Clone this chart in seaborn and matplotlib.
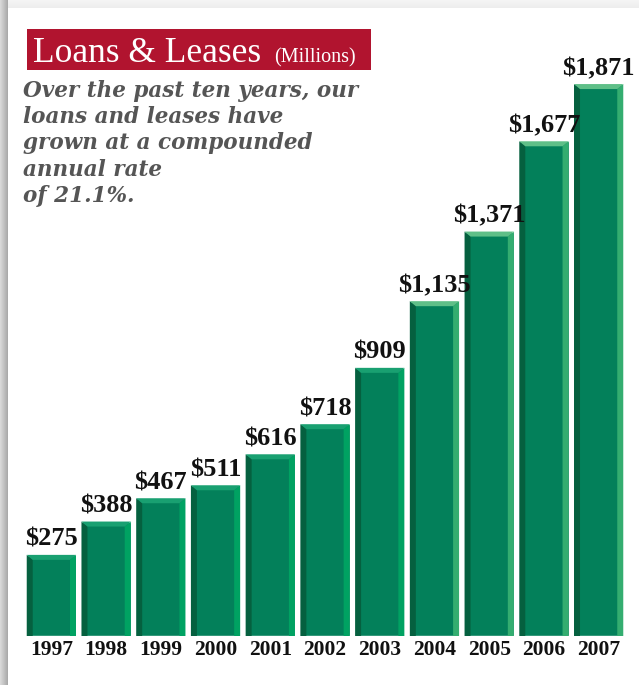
import numpy as np
import pandas as pd
import matplotlib
matplotlib.use("Agg")
import matplotlib.pyplot as plt
from matplotlib.patches import Polygon, Rectangle
import seaborn as sns

# Loans & leases outstanding, $ millions
years = ["1997", "1998", "1999", "2000", "2001", "2002",
         "2003", "2004", "2005", "2006", "2007"]
loans = [275, 388, 467, 511, 616, 718, 909, 1135, 1371, 1677, 1871]
value_labels = ["$275", "$388", "$467", "$511", "$616", "$718",
                "$909", "$1,135", "$1,371", "$1,677", "$1,871"]

title_text = "Loans & Leases"
title_unit = "(Millions)"
blurb_lines = ["Over the past ten years, our",
               "loans and leases have",
               "grown at a compounded",
               "annual rate",
               "of 21.1%."]

W, H = 639, 685
sns.set_theme(style="white")
plt.rcParams["font.family"] = ["Liberation Serif", "DejaVu Serif"]

fig = plt.figure(figsize=(W / 100, H / 100), dpi=100)

# page background: white panel with a soft grey shadow on the top and left
bg = np.ones((H, W, 3))
for i in range(8):
    t = i / 7.0
    bg[i, :, :] = np.minimum(bg[i, :, :], 0.93 + 0.03 * (1 - t))
for j in range(8):
    t = j / 7.0
    bg[:, j, :] = np.minimum(bg[:, j, :], 0.85 - 0.18 * t)
bg_ax = fig.add_axes([0, 0, 1, 1], zorder=-5)
bg_ax.imshow(bg, aspect="auto", interpolation="bilinear")
bg_ax.set_axis_off()


def px(x, y):
    """Convert pixel position (from top-left) to figure fraction."""
    return x / W, 1 - y / H


# bar chart
ax_left, ax_right, ax_bottom = 24, 626, 636
ax = fig.add_axes([ax_left / W, (H - ax_bottom) / H,
                   (ax_right - ax_left) / W, ax_bottom / H])
ax.patch.set_alpha(0)
df = pd.DataFrame({"year": years, "loans": loans})
sns.barplot(data=df, x="year", y="loans", color="#03805a", saturation=1,
            width=0.9, ax=ax, zorder=2)

ymax = ax_bottom / 0.295
ax.set_ylim(0, ymax)
ax.set_xlim(-0.5, len(years) - 0.5)
for s in ax.spines.values():
    s.set_visible(False)
ax.set_xlabel("")
ax.set_ylabel("")
ax.set_yticks([])
ax.tick_params(axis="x", length=0, pad=3)
for lab in ax.get_xticklabels():
    lab.set_fontsize(15.5)
    lab.set_fontweight("bold")
    lab.set_color("#111111")

# bevelled edges for each bar
x_per_px = len(years) / (ax_right - ax_left)
y_per_px = ymax / ax_bottom
dx, dy = 6 * x_per_px, 5 * y_per_px
for i, bar in enumerate(ax.patches):
    x, w, h = bar.get_x(), bar.get_width(), bar.get_height()
    late = i >= 7
    left_c = "#05603f"
    right_c = "#34ad70" if late else "#00a262"
    top_c = "#5fbf88" if late else "#19a071"
    ax.add_patch(Polygon([(x, 0), (x + dx, 0), (x + dx, h - dy), (x, h)],
                         closed=True, facecolor=left_c, edgecolor="none", zorder=3))
    ax.add_patch(Polygon([(x + w, 0), (x + w - dx, 0), (x + w - dx, h - dy), (x + w, h)],
                         closed=True, facecolor=right_c, edgecolor="none", zorder=3))
    ax.add_patch(Polygon([(x, h), (x + w, h), (x + w - dx, h - dy), (x + dx, h - dy)],
                         closed=True, facecolor=top_c, edgecolor="none", zorder=3))
    ax.text(x + w / 2, h + 4 * y_per_px, value_labels[i], ha="center", va="bottom",
            fontsize=19, fontweight="bold", color="#111111", clip_on=False, zorder=4)

# title block
x0, y0 = px(27, 70)
x1, y1 = px(371, 29)
fig.patches.append(Rectangle((x0, y0), x1 - x0, y1 - y0, transform=fig.transFigure,
                             facecolor="#b1142f", edgecolor="none", zorder=1))
fig.text(*px(33, 62), title_text, fontsize=25.5, color="white", ha="left",
         va="baseline", zorder=2)
fig.text(*px(274, 62), title_unit, fontsize=14.5, color="white", ha="left",
         va="baseline", zorder=2)

for k, line in enumerate(blurb_lines):
    fig.text(*px(23, 97 + 26.2 * k), line, fontsize=15.5, style="italic",
             weight="bold", family=["DejaVu Serif"], color="#555555",
             ha="left", va="baseline")

fig.savefig("out.png", dpi=100)
